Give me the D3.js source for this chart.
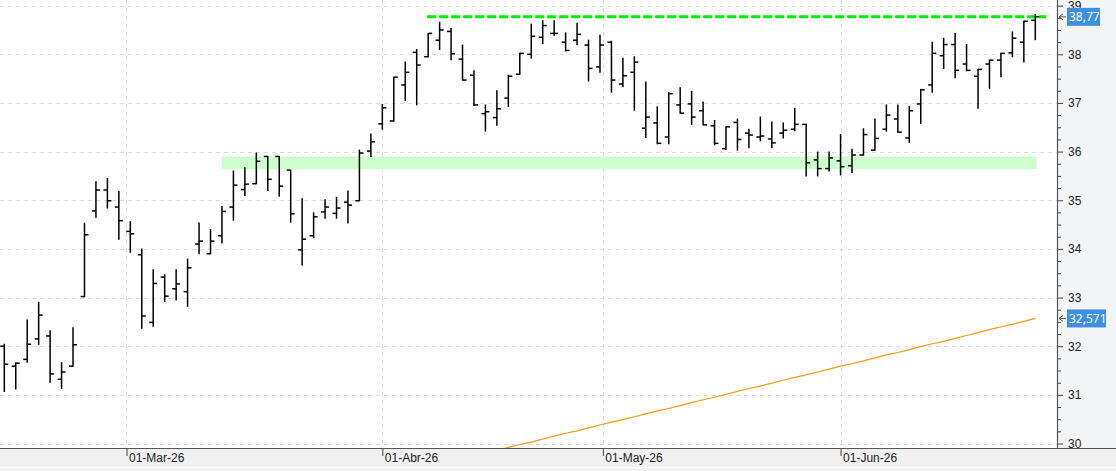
<!DOCTYPE html>
<html>
<head>
<meta charset="utf-8">
<script src="https://cdn.jsdelivr.net/npm/d3@7"></script>
<style>
  body { margin: 0; background: #fff; }
  svg { display: block; font-family: "Noto Sans", "Open Sans", sans-serif; }
  .axis text { fill: #222; font-size: 12px; }
  .axis line { stroke: #444; }
</style>
</head>
<body>
<div id="chart"></div>
<script>
// trading days shown on the chart
const dates = [
  "2026-02-13","2026-02-16","2026-02-17","2026-02-18","2026-02-19","2026-02-20","2026-02-23","2026-02-24","2026-02-25","2026-02-26","2026-02-27",
  "2026-03-02","2026-03-03","2026-03-04","2026-03-05","2026-03-06","2026-03-09","2026-03-10","2026-03-11","2026-03-12","2026-03-13",
  "2026-03-16","2026-03-17","2026-03-18","2026-03-19","2026-03-20","2026-03-23","2026-03-24","2026-03-25","2026-03-26","2026-03-27",
  "2026-03-30","2026-03-31",
  "2026-04-01","2026-04-02","2026-04-07","2026-04-08","2026-04-09","2026-04-10","2026-04-13","2026-04-14","2026-04-15","2026-04-16",
  "2026-04-17","2026-04-20","2026-04-21","2026-04-22","2026-04-23","2026-04-24","2026-04-27","2026-04-28","2026-04-29","2026-04-30",
  "2026-05-04","2026-05-05","2026-05-06","2026-05-07","2026-05-08","2026-05-11","2026-05-12","2026-05-13","2026-05-14","2026-05-15",
  "2026-05-18","2026-05-19","2026-05-20","2026-05-21","2026-05-22","2026-05-25","2026-05-26","2026-05-27","2026-05-28","2026-05-29",
  "2026-06-01","2026-06-02","2026-06-03","2026-06-04","2026-06-05","2026-06-08","2026-06-09","2026-06-10","2026-06-11","2026-06-12",
  "2026-06-15","2026-06-16","2026-06-17","2026-06-18","2026-06-19","2026-06-22","2026-06-23","2026-06-24"
];

// OHLC prices
const open = [
  32.00,31.59,31.73,32.15,32.21,31.32,31.59,33.02,34.78,35.21,34.86,
  34.36,33.88,32.49,33.42,33.18,33.12,34.10,33.90,34.27,34.86,35.22,35.34,35.90,35.90,35.62,33.98,34.27,34.76,34.73,34.96,34.99,36.01,
  36.57,36.63,37.37,38.04,37.95,38.29,38.47,37.90,37.57,36.78,36.70,37.10,37.59,38.00,38.35,38.43,38.25,38.29,38.19,37.74,
  38.25,37.39,37.63,36.48,36.59,36.30,36.96,36.98,36.84,36.53,36.06,36.60,36.38,36.30,36.26,36.38,36.46,36.56,35.83,35.65,
  35.81,35.71,35.93,36.03,36.46,36.67,36.28,36.98,37.37,37.97,38.20,37.80,37.55,37.80,37.88,38.03,38.25,38.70
];
const high = [
  32.04,31.66,32.54,32.90,32.32,31.66,32.38,34.53,35.38,35.45,35.18,
  34.56,34.00,33.57,33.47,33.57,33.79,34.53,34.40,34.87,35.60,35.67,35.97,35.90,35.90,35.62,35.03,34.74,35.01,35.06,35.19,36.03,36.36,
  36.97,37.53,37.84,38.10,38.43,38.66,38.53,38.19,37.66,36.96,37.25,37.57,38.02,38.62,38.69,38.69,38.44,38.64,38.29,38.39,
  38.27,37.92,37.95,37.43,36.92,37.21,37.31,37.24,37.02,36.64,36.51,36.67,36.46,36.71,36.61,36.59,36.89,36.56,35.99,35.99,
  36.35,36.05,36.47,36.67,36.96,36.96,36.93,37.28,38.25,38.33,38.43,38.20,37.69,37.88,38.02,38.46,38.68,38.82
];
const low = [
  31.07,31.12,31.67,32.04,31.26,31.13,31.59,33.02,34.65,34.84,34.20,
  33.93,32.37,32.41,32.92,32.95,32.82,33.90,33.90,34.12,34.59,35.10,35.34,35.20,35.08,34.55,33.67,34.23,34.63,34.63,34.53,34.99,35.90,
  36.46,36.63,37.05,36.96,37.95,38.10,37.89,37.47,36.95,36.42,36.54,36.93,37.59,37.92,38.22,38.39,38.07,38.20,37.45,37.63,
  37.22,37.34,36.85,36.29,36.16,36.16,36.79,36.56,36.55,36.14,36.05,36.03,36.08,36.22,36.08,36.28,36.43,35.50,35.50,35.60,
  35.52,35.57,35.93,36.03,36.42,36.40,36.19,36.58,37.22,37.71,37.52,37.66,36.89,37.30,37.54,37.95,37.84,38.30
];
const close = [
  31.63,31.65,32.04,32.64,31.43,31.47,32.03,34.29,35.21,34.99,34.58,
  34.31,32.62,33.29,33.03,33.28,33.61,34.16,34.16,34.77,35.31,35.33,35.80,35.43,35.29,34.72,34.20,34.66,34.86,34.84,34.90,35.97,36.20,
  36.90,37.53,37.63,37.78,38.43,38.50,38.01,37.47,36.96,36.82,36.88,37.55,38.02,38.37,38.59,38.43,38.08,38.41,37.71,38.19,
  37.47,37.56,37.84,36.71,36.17,37.19,36.79,36.71,36.55,36.17,36.51,36.25,36.34,36.32,36.18,36.44,36.56,35.77,35.65,35.87,
  35.69,35.93,36.35,36.27,36.75,36.40,36.84,37.27,38.02,38.20,37.67,37.67,37.69,37.88,38.02,38.33,38.68,38.77
];

// moving average, from 2026-04-17 on (earlier values are below the visible range)
const maStartDate = "2026-04-17";
const maValues = [
  29.86,29.92,29.98,30.03,30.09,30.15,30.21,30.26,30.32,30.38,30.44,30.49,30.55,30.61,30.67,30.72,
  30.78,30.84,30.90,30.95,31.01,31.07,31.13,31.18,31.24,31.30,31.36,31.41,31.47,31.53,31.59,31.64,
  31.70,31.76,31.82,31.87,31.93,31.99,32.05,32.10,32.16,32.22,32.28,32.34,32.40,32.45,32.51,32.571
];

// support zone and resistance line
const zoneFrom = "2026-03-12", zoneTo = "2026-06-24";
const zoneLow = 35.64, zoneHigh = 35.90;
const resistFrom = "2026-04-09";
const resistLevel = 38.77;

// axis labels
const monthStarts = ["2026-03-01", "2026-04-01", "2026-05-01", "2026-06-01"];
const monthLabels = ["01-Mar-26", "01-Abr-26", "01-May-26", "01-Jun-26"];
const yTicks = [30, 31, 32, 33, 34, 35, 36, 37, 38, 39];
const tags = [
  { value: 38.77, label: "38,77" },
  { value: 32.571, label: "32,571" }
];

// chart settings
const W = 1116, H = 471;
const plotRight = 1057, plotBottom = 448;

const parse = d3.timeParse("%Y-%m-%d");
const bars = dates.map((d, i) => ({ i: i, date: parse(d), o: open[i], h: high[i], l: low[i], c: close[i] }));
const idxOf = s => dates.indexOf(s);

const x = d3.scaleLinear().domain([0, dates.length - 1]).range([4.3, 1035.3]);
const y = d3.scaleLinear().domain([30, 39]).range([443.5, 5.65]);

// fractional index where a month begins (between the last day before and the first day in it)
function monthIndex(s) {
  const t = parse(s);
  const k = bars.findIndex(b => b.date >= t);
  if (+bars[k].date === +t || k === 0) return k;
  const a = bars[k - 1].date, b = bars[k].date;
  return k - 1 + (t - a) / (b - a);
}
const monthIdx = monthStarts.map(monthIndex);

const svg = d3.select("#chart").append("svg")
  .attr("width", W)
  .attr("height", H);

// panels
svg.append("rect").attr("x", 0).attr("y", 0).attr("width", W).attr("height", H).attr("fill", "#f0f0f0");
svg.append("rect").attr("x", 0).attr("y", 0).attr("width", plotRight).attr("height", plotBottom).attr("fill", "#fff");
svg.append("rect").attr("x", plotRight).attr("y", 0).attr("width", W - plotRight).attr("height", plotBottom).attr("fill", "#f3f4f6");
svg.append("rect").attr("x", 0).attr("y", 467).attr("width", W).attr("height", 1.5).attr("fill", "#fafafa");

svg.append("clipPath").attr("id", "plotClip")
  .append("rect").attr("x", 0).attr("y", 0).attr("width", plotRight).attr("height", plotBottom);

const plot = svg.append("g").attr("clip-path", "url(#plotClip)");

// grid
plot.append("g").selectAll("line")
  .data(yTicks)
  .enter().append("line")
  .attr("x1", 0).attr("x2", plotRight)
  .attr("y1", d => Math.round(y(d)) + 0.5).attr("y2", d => Math.round(y(d)) + 0.5)
  .attr("stroke", "#dcdcdc").attr("stroke-dasharray", "4,4");
plot.append("g").selectAll("line")
  .data(monthIdx)
  .enter().append("line")
  .attr("x1", d => Math.round(x(d)) + 0.5).attr("x2", d => Math.round(x(d)) + 0.5)
  .attr("y1", 0).attr("y2", plotBottom)
  .attr("stroke", "#dcdcdc").attr("stroke-dasharray", "4,4");

// support zone
plot.append("rect")
  .attr("x", x(idxOf(zoneFrom)))
  .attr("width", x(idxOf(zoneTo)) - x(idxOf(zoneFrom)) + 1)
  .attr("y", y(zoneHigh))
  .attr("height", y(zoneLow) - y(zoneHigh))
  .attr("fill", "#ccffcc");

// moving average
const maStart = idxOf(maStartDate);
plot.append("path")
  .datum(maValues)
  .attr("fill", "none")
  .attr("stroke", "#f59a0c")
  .attr("stroke-width", 1.2)
  .attr("d", d3.line().x((d, k) => x(maStart + k)).y(d => y(d)));

// resistance line
plot.append("line")
  .attr("x1", x(idxOf(resistFrom)) - 1)
  .attr("x2", x(dates.length - 1) + 11)
  .attr("y1", y(resistLevel)).attr("y2", y(resistLevel))
  .attr("stroke", "#00ee00").attr("stroke-width", 3)
  .attr("stroke-dasharray", "9,3");

// OHLC bars
const barG = plot.append("g").attr("stroke", "#000").attr("stroke-width", 1.5);
barG.selectAll(".hl")
  .data(bars)
  .enter().append("line")
  .attr("class", "hl")
  .attr("x1", d => x(d.i)).attr("x2", d => x(d.i))
  .attr("y1", d => y(d.h) - 0.5).attr("y2", d => y(d.l) + 0.5);
barG.selectAll(".op")
  .data(bars)
  .enter().append("line")
  .attr("class", "op")
  .attr("x1", d => x(d.i) - 4).attr("x2", d => x(d.i))
  .attr("y1", d => y(d.o)).attr("y2", d => y(d.o));
barG.selectAll(".cl")
  .data(bars)
  .enter().append("line")
  .attr("class", "cl")
  .attr("x1", d => x(d.i)).attr("x2", d => x(d.i) + 4)
  .attr("y1", d => y(d.c)).attr("y2", d => y(d.c));

// y axis (right)
const minorTicks = d3.range(30, 39.01, 0.25).filter(v => Math.abs(v - Math.round(v)) > 0.01);
svg.append("g")
  .attr("class", "axis")
  .attr("transform", "translate(" + plotRight + ",0)")
  .call(d3.axisRight(y).tickValues(minorTicks).tickSize(4).tickFormat(""))
  .call(g => g.select(".domain").remove());
svg.append("g")
  .attr("class", "axis")
  .attr("transform", "translate(" + plotRight + ",0)")
  .call(d3.axisRight(y).tickValues(yTicks).tickSize(6).tickPadding(5).tickFormat(d3.format("d")))
  .call(g => g.select(".domain").remove());

// x axis (bottom)
svg.append("g")
  .attr("class", "axis")
  .attr("transform", "translate(0," + plotBottom + ")")
  .call(d3.axisBottom(x).tickValues(monthIdx).tickSize(8).tickFormat((d, k) => monthLabels[k]))
  .call(g => g.select(".domain").remove())
  .call(g => g.selectAll(".tick text")
    .attr("text-anchor", "start")
    .attr("x", 2)
    .attr("y", 5)
    .attr("dy", "0.71em"));

// axis borders
svg.append("line")
  .attr("x1", plotRight + 0.5).attr("x2", plotRight + 0.5)
  .attr("y1", 0).attr("y2", plotBottom)
  .attr("stroke", "#555").attr("stroke-width", 1.2);
svg.append("line")
  .attr("x1", 0).attr("x2", W)
  .attr("y1", plotBottom + 0.5).attr("y2", plotBottom + 0.5)
  .attr("stroke", "#555").attr("stroke-width", 1.2);

// value tags
const tagG = svg.append("g").selectAll("g")
  .data(tags)
  .enter().append("g")
  .attr("transform", d => "translate(" + plotRight + "," + y(d.value) + ")");
tagG.append("path")
  .attr("d", "M6,-3L2,0L6,3M2,0H9")
  .attr("fill", "none").attr("stroke", "#555").attr("stroke-width", 1);
tagG.append("rect")
  .attr("x", 10).attr("y", -9)
  .attr("width", d => d.label.length * 6 + 3).attr("height", 18)
  .attr("fill", "#3d8fe3");
tagG.append("text")
  .attr("x", 12).attr("y", 0).attr("dy", "0.35em")
  .attr("fill", "#fff").attr("font-size", "12px")
  .text(d => d.label);
</script>
</body>
</html>
